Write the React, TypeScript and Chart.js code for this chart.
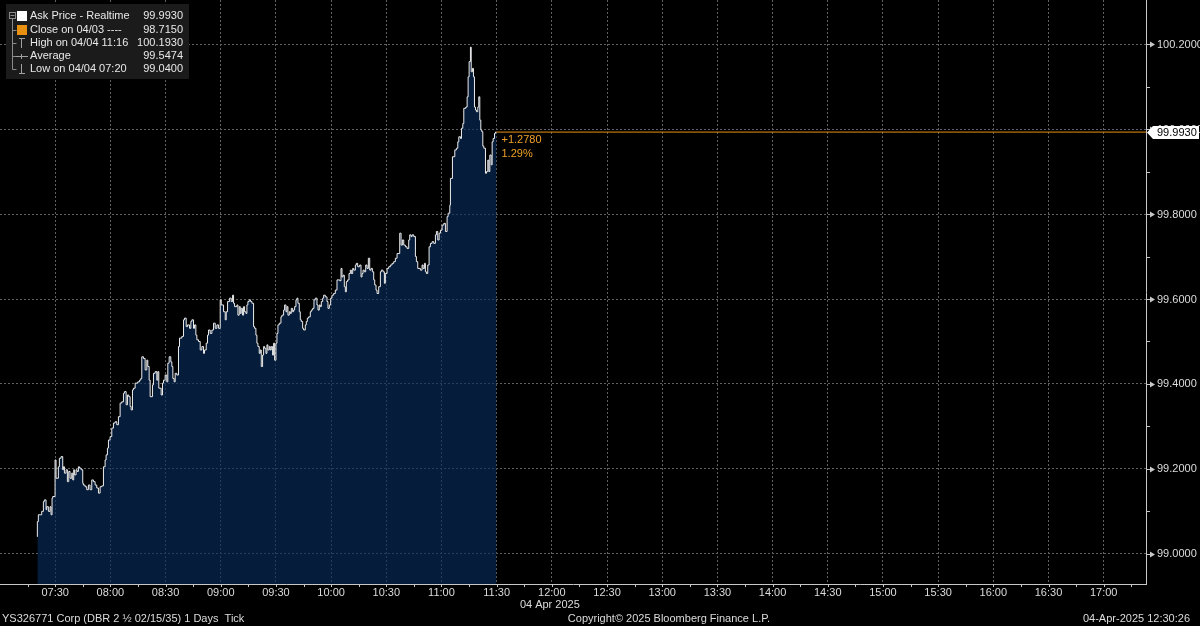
import React, { useEffect, useRef } from "react";
import { Chart, registerables } from "chart.js";

Chart.register(...registerables);

// ---------- DATA ----------
const tickTimes = [
  "07:20:19","07:20:51","07:22:40","07:23:35","07:24:07","07:25:02","07:25:24","07:26:18","07:27:13","07:27:45",
  "07:28:18","07:28:40","07:29:56","07:30:28","07:31:44","07:32:17","07:33:12","07:34:06","07:34:28","07:35:01",
  "07:35:55","07:36:38","07:37:22","07:38:05","07:39:00","07:39:32","07:40:05","07:40:27","07:41:21","07:41:54",
  "07:42:38","07:43:10","07:44:05","07:44:59","07:45:21","07:46:15","07:47:10","07:48:04","07:48:58","07:49:53",
  "07:50:47","07:51:42","07:52:36","07:53:31","07:54:25","07:55:19","07:56:14","07:57:08","07:57:41","07:58:24",
  "07:58:57","07:59:51","08:00:46","08:01:40","08:02:35","08:03:29","08:04:23","08:05:18","08:06:12","08:07:07",
  "08:07:39","08:08:34","08:09:17","08:10:01","08:10:44","08:11:17","08:12:01","08:12:33","08:13:28","08:14:55",
  "08:15:49","08:16:33","08:17:05","08:18:00","08:18:54","08:19:49","08:20:21","08:21:05","08:21:37","08:22:53",
  "08:23:26","08:24:21","08:25:15","08:25:48","08:26:20","08:27:37","08:28:20","08:28:53","08:29:47","08:30:41",
  "08:31:14","08:31:58","08:32:52","08:33:25","08:33:58","08:34:41","08:35:14","08:36:08","08:37:02","08:37:35",
  "08:38:51","08:39:46","08:40:18","08:41:13","08:41:56","08:43:02","08:43:45","08:44:18","08:45:12","08:45:45",
  "08:46:28","08:47:01","08:47:55","08:48:50","08:49:44","08:50:39","08:51:11","08:52:06","08:52:49","08:53:22",
  "08:54:16","08:55:11","08:56:05","08:57:00","08:57:54","08:58:49","08:59:43","09:00:16","09:01:32","09:02:26",
  "09:02:59","09:03:43","09:04:48","09:05:42","09:06:26","09:06:58","09:07:31","09:08:47","09:09:20","09:10:03",
  "09:10:36","09:11:08","09:11:52","09:12:25","09:12:57","09:13:41","09:14:14","09:14:46","09:15:30","09:16:13",
  "09:16:57","09:17:51","09:18:24","09:19:07","09:19:40","09:20:13","09:20:56","09:21:29","09:22:02","09:22:45",
  "09:23:18","09:23:50","09:24:34","09:25:07","09:25:39","09:26:23","09:26:55","09:27:28","09:28:11","09:28:44",
  "09:29:17","09:30:01","09:30:33","09:31:06","09:31:49","09:32:44","09:33:16","09:34:11","09:34:43","09:35:27",
  "09:36:00","09:36:32","09:37:16","09:37:49","09:38:21","09:39:05","09:39:37","09:40:10","09:40:53","09:41:26",
  "09:41:59","09:42:42","09:43:15","09:43:47","09:44:31","09:45:04","09:45:58","09:46:31","09:47:04","09:47:47",
  "09:48:41","09:49:14","09:49:58","09:50:41","09:51:25","09:52:19","09:52:52","09:53:35","09:54:08","09:54:41",
  "09:55:24","09:55:57","09:56:51","09:57:46","09:58:18","09:59:02","09:59:45","10:00:29","10:01:23","10:02:18",
  "10:03:12","10:04:39","10:05:23","10:05:55","10:06:28","10:07:11","10:07:44","10:08:17","10:09:00","10:09:44",
  "10:10:27","10:11:00","10:11:44","10:12:16","10:13:11","10:13:43","10:14:27","10:15:32","10:16:16","10:16:49",
  "10:17:21","10:18:04","10:18:48","10:19:32","10:20:15","10:20:59","10:21:42","10:22:26","10:23:09","10:23:42",
  "10:24:25","10:24:58","10:25:52","10:26:47","10:27:20","10:28:14","10:28:58","10:29:30","10:30:25","10:31:19",
  "10:32:13","10:33:08","10:34:02","10:34:56","10:35:51","10:37:18","10:38:02","10:38:45","10:39:29","10:40:23",
  "10:41:17","10:42:12","10:42:44","10:43:28","10:44:01","10:44:55","10:45:50","10:46:22","10:47:06","10:48:33",
  "10:49:27","10:50:00","10:50:43","10:51:16","10:51:49","10:52:32","10:53:16","10:53:59","10:54:54","10:55:48",
  "10:56:43","10:57:15","10:57:59","10:58:43","10:59:26","11:00:20","11:01:15","11:02:09","11:03:04","11:03:36",
  "11:04:31","11:04:52","11:05:58","11:07:14","11:08:08","11:08:52","11:09:25","11:10:19","11:10:52","11:11:35",
  "11:12:08","11:13:13","11:13:57","11:14:29","11:15:02","11:15:45","11:16:10","11:16:50","11:17:23","11:17:56",
  "11:18:29","11:19:01","11:19:45","11:20:17","11:20:50","11:21:23","11:21:55","11:22:28","11:23:01","11:23:55",
  "11:24:28","11:25:11","11:25:44","11:26:17","11:27:00","11:27:33","11:28:05","11:28:49","11:29:22","11:29:54"
];

const askPrices = [
  99.040,99.076,99.092,99.100,99.123,99.127,99.104,99.111,99.100,99.111,
  99.092,99.131,99.135,99.221,99.178,99.205,99.225,99.229,99.198,99.205,
  99.190,99.198,99.170,99.194,99.178,99.190,99.174,99.198,99.186,99.198,
  99.194,99.205,99.202,99.198,99.166,99.162,99.158,99.151,99.162,99.151,
  99.174,99.170,99.162,99.155,99.143,99.158,99.160,99.205,99.221,99.233,
  99.249,99.268,99.276,99.296,99.308,99.311,99.304,99.323,99.355,99.358,
  99.378,99.382,99.351,99.374,99.370,99.347,99.339,99.386,99.390,99.402,
  99.405,99.409,99.413,99.464,99.460,99.433,99.456,99.441,99.409,99.370,
  99.398,99.425,99.429,99.409,99.429,99.390,99.374,99.402,99.409,99.421,
  99.405,99.449,99.464,99.452,99.441,99.413,99.405,99.425,99.421,99.488,
  99.508,99.512,99.551,99.555,99.535,99.539,99.531,99.547,99.551,99.531,
  99.539,99.515,99.504,99.500,99.480,99.488,99.472,99.480,99.496,99.515,
  99.527,99.519,99.527,99.543,99.531,99.539,99.531,99.598,99.586,99.570,
  99.551,99.570,99.594,99.602,99.594,99.609,99.590,99.582,99.586,99.562,
  99.582,99.566,99.578,99.562,99.582,99.570,99.566,99.586,99.594,99.598,
  99.594,99.590,99.535,99.531,99.515,99.496,99.488,99.472,99.480,99.441,
  99.468,99.488,99.484,99.472,99.492,99.480,99.488,99.480,99.488,99.468,
  99.496,99.456,99.496,99.519,99.539,99.543,99.558,99.562,99.574,99.586,
  99.570,99.582,99.562,99.570,99.566,99.578,99.570,99.574,99.582,99.598,
  99.602,99.590,99.570,99.551,99.547,99.531,99.527,99.539,99.547,99.555,
  99.558,99.570,99.574,99.578,99.598,99.602,99.586,99.574,99.586,99.582,
  99.594,99.602,99.609,99.605,99.594,99.578,99.586,99.602,99.609,99.613,
  99.621,99.645,99.643,99.672,99.652,99.656,99.629,99.617,99.641,99.645,
  99.660,99.668,99.660,99.672,99.668,99.680,99.684,99.676,99.680,99.652,
  99.660,99.668,99.664,99.680,99.672,99.696,99.668,99.672,99.664,99.645,
  99.633,99.621,99.613,99.629,99.664,99.668,99.664,99.637,99.660,99.672,
  99.676,99.680,99.684,99.688,99.696,99.707,99.755,99.727,99.739,99.727,
  99.723,99.719,99.739,99.751,99.747,99.751,99.747,99.700,99.688,99.672,
  99.668,99.680,99.672,99.684,99.664,99.660,99.680,99.723,99.731,99.735,
  99.731,99.751,99.759,99.739,99.755,99.762,99.774,99.778,99.759,99.794,
  99.802,99.821,99.884,99.935,99.951,99.955,99.970,99.982,99.978,100.002,
  100.013,100.049,100.052,100.076,100.123,100.159,100.193,100.135,100.143,100.123,
  100.052,100.045,100.041,100.052,100.076,100.021,99.998,99.994,99.960,99.955,
  99.896,99.900,99.927,99.900,99.939,99.916,99.970,99.978,99.990,99.993
];

const xTickLabels = ["07:30","08:00","08:30","09:00","09:30","10:00","10:30","11:00","11:30","12:00",
  "12:30","13:00","13:30","14:00","14:30","15:00","15:30","16:00","16:30","17:00"];
const yTickValues = [99.0, 99.2, 99.4, 99.6, 99.8, 100.0, 100.2];
const yMinorTickValues = [99.1, 99.3, 99.5, 99.7, 99.9, 100.1];
const axisStart = "07:00";
const axisEnd = "17:23";
const yMin = 98.929;
const yMax = 100.304;
const prevClose = 98.715;
const dateLabel = "04 Apr 2025";
const dateLabelAt = "12:00";

const legendLabels = ["Ask Price - Realtime", "Close on 04/03 ----", "High on 04/04 11:16", "Average", "Low on 04/04 07:20"];
const legendValues = ["99.9930", "98.7150", "100.1930", "99.5474", "99.0400"];

const footerLeft = "YS326771 Corp (DBR 2 \u00BD 02/15/35) 1 Days  Tick";
const footerCenter = "Copyright\u00A9 2025 Bloomberg Finance L.P.";
const footerRight = "04-Apr-2025 12:30:26";

// ---------- HELPERS ----------
const toMin = (s: string) => {
  const p = s.split(":").map(Number);
  return p[0] * 60 + p[1] + (p[2] || 0) / 60;
};

const FONT = '11px "Liberation Sans", Arial, sans-serif';
const TEXT = "#dcdcdc";
const ORANGE = "#e8900f";

const decorPlugin = {
  id: "bbgDecor",
  afterDraw(chart: any) {
    const { ctx, chartArea } = chart;
    const xs = chart.scales.x;
    const ys = chart.scales.y;
    const lastPrice = askPrices[askPrices.length - 1];
    const lastTime = toMin(tickTimes[tickTimes.length - 1]);
    ctx.save();
    ctx.font = FONT;

    // x axis tick marks (every 15 min) and labels
    ctx.strokeStyle = "#c8c8c8";
    ctx.lineWidth = 1;
    for (let m = toMin(axisStart) + 15; m < toMin(axisEnd); m += 15) {
      const px = Math.round(xs.getPixelForValue(m)) + 0.5;
      ctx.beginPath();
      ctx.moveTo(px, chartArea.bottom);
      ctx.lineTo(px, chartArea.bottom + 3);
      ctx.stroke();
    }
    ctx.fillStyle = TEXT;
    ctx.textAlign = "center";
    ctx.textBaseline = "middle";
    xTickLabels.forEach((l) => {
      ctx.fillText(l, xs.getPixelForValue(toMin(l)), chartArea.bottom + 9);
    });
    ctx.fillText(dateLabel, xs.getPixelForValue(toMin(dateLabelAt)) - 2, chartArea.bottom + 21);

    // y axis ticks, arrows and labels
    const ax = chartArea.right;
    ctx.strokeStyle = "#c8c8c8";
    ctx.fillStyle = "#c8c8c8";
    yMinorTickValues.forEach((v) => {
      const py = Math.round(ys.getPixelForValue(v)) + 0.5;
      ctx.beginPath();
      ctx.moveTo(ax, py);
      ctx.lineTo(ax + 4, py);
      ctx.stroke();
    });
    yTickValues.forEach((v) => {
      const py = Math.round(ys.getPixelForValue(v)) + 0.5;
      ctx.beginPath();
      ctx.moveTo(ax, py);
      ctx.lineTo(ax + 5, py);
      ctx.stroke();
      ctx.beginPath();
      ctx.moveTo(ax + 4, py - 3);
      ctx.lineTo(ax + 9, py);
      ctx.lineTo(ax + 4, py + 3);
      ctx.closePath();
      ctx.fill();
    });
    ctx.fillStyle = TEXT;
    ctx.textAlign = "left";
    yTickValues.forEach((v) => {
      ctx.fillText(v.toFixed(4), ax + 11, ys.getPixelForValue(v) + 0.5);
    });

    // last price box
    const ly = Math.round(ys.getPixelForValue(lastPrice)) + 0.5;
    ctx.fillStyle = "#ffffff";
    ctx.beginPath();
    ctx.moveTo(ax + 1, ly);
    ctx.lineTo(ax + 7, ly - 6.5);
    ctx.lineTo(1199, ly - 6.5);
    ctx.lineTo(1199, ly + 6.5);
    ctx.lineTo(ax + 7, ly + 6.5);
    ctx.closePath();
    ctx.fill();
    ctx.fillStyle = "#000000";
    ctx.fillText(lastPrice.toFixed(4), ax + 11, ly + 0.5);

    // change annotation
    const chg = lastPrice - prevClose;
    const pct = (chg / prevClose) * 100;
    ctx.fillStyle = "#f0a028";
    const axx = xs.getPixelForValue(lastTime) + 5;
    ctx.fillText((chg >= 0 ? "+" : "") + chg.toFixed(4), axx, ly + 7);
    ctx.fillText(pct.toFixed(2) + "%", axx, ly + 21);

    // legend box
    ctx.fillStyle = "#1b1b1b";
    ctx.fillRect(6, 4, 183, 75);
    const rows = [16, 29.5, 43, 56, 69];
    ctx.strokeStyle = "#8a8a8a";
    ctx.lineWidth = 1;
    ctx.strokeRect(9.5, 12.5, 6, 6);
    ctx.beginPath();
    ctx.moveTo(10.5, 15.5); ctx.lineTo(14.5, 15.5);
    ctx.moveTo(12.5, 18.5); ctx.lineTo(12.5, 69.5);
    [29.5, 43, 56, 69].forEach((r) => {
      const yy = Math.round(r) + 0.5;
      ctx.moveTo(12.5, yy); ctx.lineTo(16.5, yy);
    });
    ctx.stroke();
    ctx.fillStyle = "#ffffff";
    ctx.fillRect(17, 11, 10, 10);
    ctx.fillStyle = ORANGE;
    ctx.fillRect(17, 25, 10, 10);
    ctx.strokeStyle = "#a0a0a0";
    ctx.beginPath();
    ctx.moveTo(19, 38.5); ctx.lineTo(25, 38.5);
    ctx.moveTo(21.5, 38.5); ctx.lineTo(21.5, 48);
    ctx.moveTo(16, 56.5); ctx.lineTo(28, 56.5);
    ctx.moveTo(21.5, 54); ctx.lineTo(21.5, 59);
    ctx.moveTo(21.5, 64); ctx.lineTo(21.5, 73.5);
    ctx.moveTo(19, 73.5); ctx.lineTo(25, 73.5);
    ctx.stroke();
    ctx.fillStyle = "#e8e8e8";
    legendLabels.forEach((l, i) => {
      ctx.textAlign = "left";
      ctx.fillText(l, 30, rows[i]);
      ctx.textAlign = "right";
      ctx.fillText(legendValues[i], 183, rows[i]);
    });

    // footer
    ctx.fillStyle = TEXT;
    ctx.textAlign = "left";
    ctx.fillText(footerLeft, 2, 619);
    ctx.textAlign = "center";
    ctx.fillText(footerCenter, 669, 619);
    ctx.textAlign = "right";
    ctx.fillText(footerRight, 1190, 619);
    ctx.restore();
  },
};

export default function App() {
  const canvasRef = useRef<HTMLCanvasElement | null>(null);

  useEffect(() => {
    document.body.style.margin = "0";
    document.body.style.background = "#000";
    const canvas = canvasRef.current;
    if (!canvas) return;
    const points = tickTimes.map((t, i) => ({ x: toMin(t), y: askPrices[i] }));
    const last = points[points.length - 1];

    const chart = new Chart(canvas, {
      type: "line",
      data: {
        datasets: [
          {
            data: points,
            stepped: "after",
            borderColor: "#ececec",
            borderWidth: 1,
            backgroundColor: "rgba(10,44,92,0.64)",
            fill: "start",
            pointRadius: 0,
            order: 1,
          },
          {
            data: [
              { x: last.x, y: last.y },
              { x: toMin(axisEnd), y: last.y },
            ],
            borderColor: ORANGE,
            borderWidth: 1,
            pointRadius: 0,
            fill: false,
            order: 2,
          },
        ],
      } as any,
      options: {
        responsive: false,
        animation: false,
        devicePixelRatio: 1,
        events: [],
        layout: { padding: 0 },
        plugins: {
          legend: { display: false },
          tooltip: { enabled: false },
        },
        scales: {
          x: {
            type: "linear",
            min: toMin(axisStart),
            max: toMin(axisEnd),
            afterBuildTicks: (s: any) => {
              s.ticks = xTickLabels.map((l) => ({ value: toMin(l) }));
            },
            afterFit: (s: any) => {
              s.height = 42;
              s.paddingLeft = 0;
              s.paddingRight = 0;
            },
            ticks: { display: false },
            grid: { color: "#606060", lineWidth: 1, drawTicks: false },
            border: { display: true, color: "#c8c8c8", width: 1, dash: [2, 2] },
          },
          y: {
            type: "linear",
            position: "right",
            min: yMin,
            max: yMax,
            afterBuildTicks: (s: any) => {
              s.ticks = yTickValues.map((v) => ({ value: v }));
            },
            afterFit: (s: any) => {
              s.width = 54;
              s.paddingTop = 0;
              s.paddingBottom = 0;
            },
            ticks: { display: false },
            grid: { color: "#606060", lineWidth: 1, drawTicks: false },
            border: { display: true, color: "#c8c8c8", width: 1, dash: [2, 2] },
          },
        },
      } as any,
      plugins: [decorPlugin],
    });
    return () => chart.destroy();
  }, []);

  return (
    <div style={{ width: 1200, height: 626, background: "#000" }}>
      <canvas ref={canvasRef} width={1200} height={626} style={{ display: "block" }} />
    </div>
  );
}
